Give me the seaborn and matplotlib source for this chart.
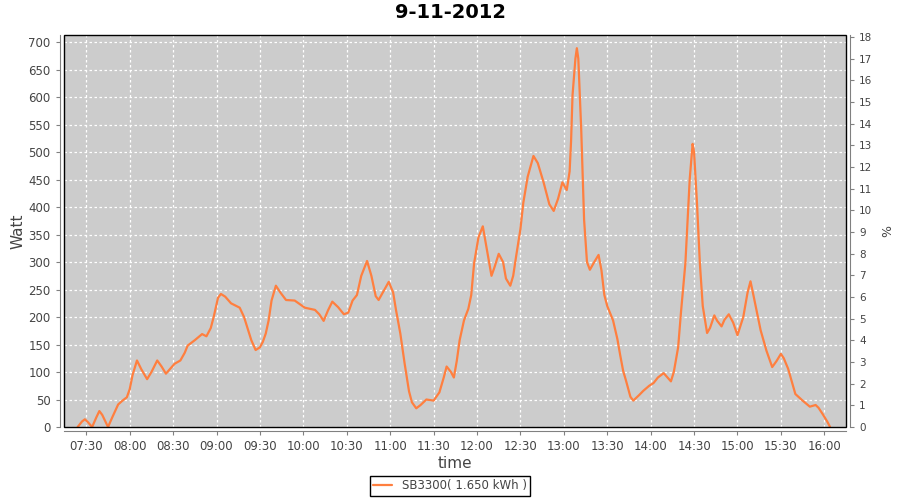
import pandas as pd
import seaborn as sns
import matplotlib.pyplot as plt
import matplotlib.dates as mdates
from matplotlib.patches import Rectangle

### data (time of day, power in Watt)
times = ["07:24", "07:27", "07:29", "07:31", "07:34", "07:37", "07:39", "07:41", "07:45", "07:48",
         "07:52", "07:55", "07:58", "08:00", "08:02", "08:05", "08:08", "08:12", "08:15", "08:19",
         "08:22", "08:25", "08:28", "08:31", "08:35", "08:38", "08:40", "08:45", "08:50", "08:53",
         "08:56", "08:58", "09:01", "09:03", "09:06", "09:10", "09:16", "09:19", "09:22", "09:24",
         "09:27", "09:30", "09:32", "09:34", "09:36", "09:38", "09:41", "09:44", "09:48", "09:54",
         "10:01", "10:08", "10:11", "10:14", "10:17", "10:20", "10:24", "10:28", "10:31", "10:34",
         "10:37", "10:40", "10:44", "10:47", "10:50", "10:52", "10:55", "10:59", "11:02", "11:04",
         "11:07", "11:10", "11:13", "11:15", "11:18", "11:21", "11:25", "11:30", "11:34", "11:37",
         "11:39", "11:42", "11:44", "11:46", "11:48", "11:51", "11:54", "11:56", "11:58", "12:01",
         "12:04", "12:07", "12:10", "12:12", "12:15", "12:18", "12:20", "12:23", "12:25", "12:27",
         "12:30", "12:32", "12:35", "12:39", "12:42", "12:46", "12:50", "12:53", "12:56", "12:59",
         "13:02", "13:04", "13:05", "13:06", "13:08", "13:09", "13:10", "13:12", "13:14", "13:16",
         "13:18", "13:21", "13:24", "13:26", "13:28", "13:30", "13:34", "13:37", "13:39", "13:41",
         "13:43", "13:46", "13:48", "13:52", "13:55", "13:59", "14:02", "14:05", "14:09", "14:11",
         "14:14", "14:16", "14:19", "14:21", "14:24", "14:27", "14:29", "14:30", "14:32", "14:34",
         "14:36", "14:39", "14:41", "14:44", "14:46", "14:49", "14:51", "14:54", "14:57", "15:00",
         "15:04", "15:07", "15:09", "15:11", "15:16", "15:20", "15:24", "15:27", "15:30", "15:32",
         "15:35", "15:40", "15:45", "15:50", "15:54", "15:56", "15:59", "16:02", "16:04"]
watt = [0, 10, 14, 9, 0, 18, 29, 22, 0, 18,
        41, 48, 54, 69, 95, 121, 105, 87, 100, 121,
        110, 97, 106, 115, 121, 135, 148, 158, 169, 165,
        180, 200, 235, 242, 237, 225, 217, 200, 175, 158,
        140, 145, 155, 170, 194, 230, 257, 245, 231, 230,
        217, 213, 205, 193, 212, 228, 218, 205, 208, 230,
        240, 275, 302, 275, 238, 231, 245, 264, 245, 213,
        170, 115, 65, 45, 34, 40, 50, 48, 63, 90,
        110, 100, 90, 120, 158, 194, 215, 240, 298, 345,
        365, 320, 275, 290, 315, 300, 270, 257, 275, 310,
        360, 408, 455, 493, 480, 445, 405, 393, 415, 445,
        431, 465, 520, 603, 670, 689, 670, 542, 377, 300,
        286, 300, 313, 285, 240, 220, 194, 160, 130, 102,
        84, 55, 48, 58, 66, 75, 80, 90, 98, 92,
        83, 100, 145, 210, 298, 451, 515, 500, 408, 298,
        220, 171, 180, 203, 193, 183, 195, 205, 190, 167,
        200, 245, 265, 240, 176, 139, 109, 120, 133, 125,
        106, 60, 48, 37, 40, 35, 23, 10, 0]

title = "9-11-2012"
series_name = "SB3300( 1.650 kWh )"
day = "2012-11-09 "

df = pd.DataFrame({"time": pd.to_datetime([day + t for t in times]), "watt": watt})

sns.set_style("white")
plt.rcParams["font.family"] = ["DejaVu Sans"]

fig = plt.figure(figsize=(9, 5), dpi=100)
ax = fig.add_axes([0.071, 0.146, 0.869, 0.784])
ax.set_facecolor("#cccccc")

sns.lineplot(data=df, x="time", y="watt", ax=ax, color="#ff7f3f", linewidth=1.6,
             label=series_name, legend=False)

# axes ranges
ax.set_xlim(pd.Timestamp(day + "07:14:30"), pd.Timestamp(day + "16:15"))
ax.set_ylim(0, 713)
ax.set_yticks(range(0, 701, 50))
ax.xaxis.set_major_locator(mdates.MinuteLocator(byminute=[0, 30]))
ax.xaxis.set_major_formatter(mdates.DateFormatter("%H:%M"))

ax.grid(True, color="white", linestyle=(0, (2, 2)), linewidth=0.9)

# axis lines a bit outside the plot, box around the plot
for s in ["left", "bottom"]:
    ax.spines[s].set_position(("outward", 3))
    ax.spines[s].set_color("#808080")
ax.spines["top"].set_visible(False)
ax.spines["right"].set_visible(False)
ax.add_patch(Rectangle((0, 0), 1, 1, transform=ax.transAxes, fill=False,
                       edgecolor="black", linewidth=1, zorder=5, clip_on=False))

ax.tick_params(axis="both", direction="out", length=3, width=0.8, color="#808080",
               labelsize=8.5, labelcolor="#444444", left=True, bottom=True)
ax.set_xlabel("time", fontsize=11, color="#444444", labelpad=2)
ax.set_ylabel("Watt", fontsize=11, color="#444444", labelpad=2)

# percent axis on the right
ax2 = ax.twinx()
ax2.set_ylim(0, 18.1)
ax2.set_yticks(range(0, 19))
for s in ["left", "top", "bottom"]:
    ax2.spines[s].set_visible(False)
ax2.spines["right"].set_position(("outward", 3))
ax2.spines["right"].set_color("#808080")
ax2.tick_params(axis="y", direction="out", length=3, width=0.8, color="#808080",
                labelsize=7.5, labelcolor="#444444", right=True)
ax2.set_ylabel("%", fontsize=9, color="#444444", labelpad=6)

fig.suptitle(title, fontsize=14, fontweight="bold", color="black", y=0.995)

h, l = ax.get_legend_handles_labels()
fig.legend(h, l, loc="lower center", bbox_to_anchor=(0.5, 0.004), borderaxespad=0.2,
           fontsize=8.5, frameon=True, fancybox=False, edgecolor="black", framealpha=1,
           handlelength=1.6, borderpad=0.3, labelcolor="#444444")

fig.savefig("out.png", dpi=100)
